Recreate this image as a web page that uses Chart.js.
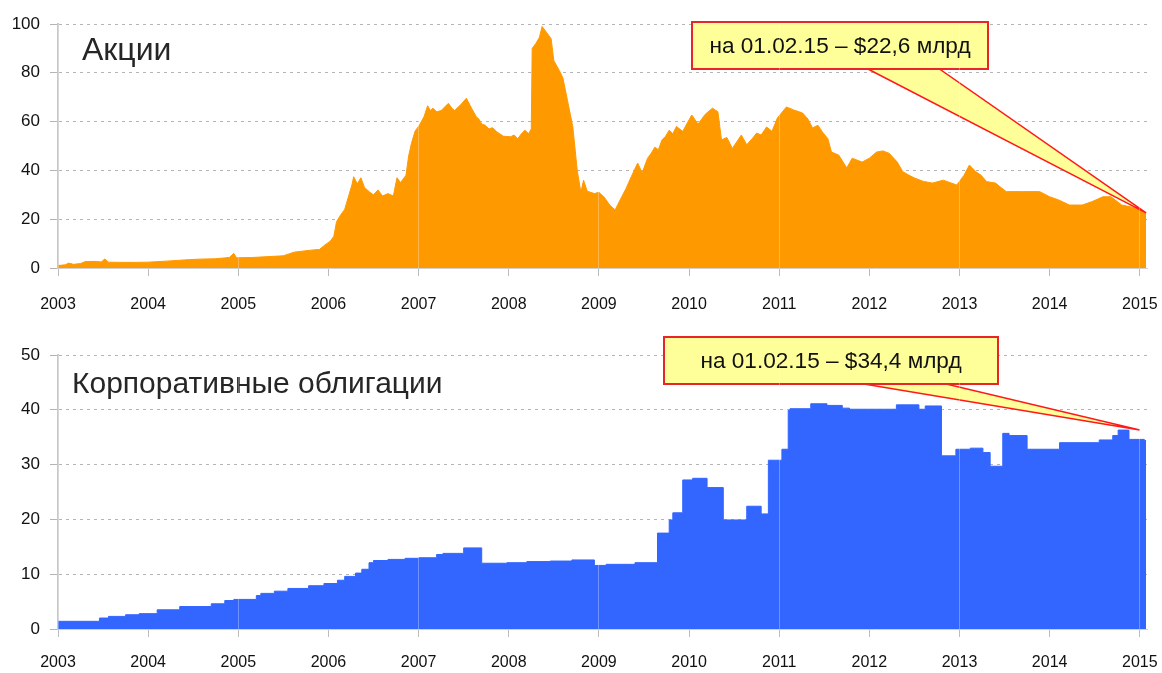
<!DOCTYPE html>
<html>
<head>
<meta charset="utf-8">
<script src="https://cdn.jsdelivr.net/npm/chart.js@4.4.1/dist/chart.umd.min.js"></script>
<style>
body { margin: 0; background: #fff; }
#wrap { position: relative; width: 1162px; height: 673px; }
canvas { position: absolute; left: 0; }
</style>
</head>
<body>
<div id="wrap">
<canvas id="stocks" width="1162" height="330" style="top:0"></canvas>
<canvas id="bonds" width="1162" height="343" style="top:330px"></canvas>
</div>
<script>
// Акции, млрд долл. (год, значение)
var stockYears = [2003.00, 2003.08, 2003.12, 2003.17, 2003.25, 2003.30, 2003.40, 2003.48, 2003.52, 2003.56,
	2003.70, 2003.85, 2004.00, 2004.20, 2004.40, 2004.55, 2004.75, 2004.90, 2004.95, 2004.98,
	2005.15, 2005.35, 2005.50, 2005.62, 2005.80, 2005.90, 2005.96, 2006.02, 2006.06, 2006.09,
	2006.14, 2006.18, 2006.22, 2006.26, 2006.28, 2006.32, 2006.36, 2006.40, 2006.46, 2006.50,
	2006.55, 2006.60, 2006.66, 2006.72, 2006.76, 2006.80, 2006.86, 2006.89, 2006.92, 2006.96,
	2007.01, 2007.06, 2007.10, 2007.13, 2007.16, 2007.20, 2007.25, 2007.29, 2007.33, 2007.37,
	2007.40, 2007.44, 2007.47, 2007.53, 2007.58, 2007.64, 2007.67, 2007.70, 2007.74, 2007.78,
	2007.82, 2007.86, 2007.90, 2007.94, 2008.02, 2008.06, 2008.10, 2008.14, 2008.18, 2008.22,
	2008.25, 2008.26, 2008.30, 2008.34, 2008.37, 2008.42, 2008.47, 2008.50, 2008.56, 2008.60,
	2008.65, 2008.71, 2008.76, 2008.80, 2008.83, 2008.87, 2008.95, 2009.00, 2009.06, 2009.12,
	2009.18, 2009.23, 2009.30, 2009.36, 2009.43, 2009.48, 2009.54, 2009.58, 2009.62, 2009.66,
	2009.70, 2009.74, 2009.78, 2009.82, 2009.86, 2009.93, 2010.03, 2010.10, 2010.18, 2010.26,
	2010.32, 2010.36, 2010.42, 2010.48, 2010.58, 2010.64, 2010.70, 2010.75, 2010.80, 2010.86,
	2010.92, 2010.98, 2011.08, 2011.16, 2011.26, 2011.32, 2011.37, 2011.43, 2011.48, 2011.54,
	2011.58, 2011.66, 2011.75, 2011.81, 2011.92, 2012.00, 2012.08, 2012.15, 2012.22, 2012.31,
	2012.37, 2012.44, 2012.50, 2012.60, 2012.70, 2012.82, 2012.97, 2013.05, 2013.11, 2013.18,
	2013.24, 2013.30, 2013.40, 2013.46, 2013.52, 2013.70, 2013.89, 2014.00, 2014.10, 2014.22,
	2014.36, 2014.47, 2014.59, 2014.68, 2014.80, 2014.96, 2015.07];
var stockValues = [1.0, 1.3, 2.0, 1.5, 1.8, 2.6, 2.7, 2.5, 3.7, 2.4,
	2.3, 2.3, 2.4, 2.8, 3.3, 3.6, 3.8, 4.3, 6.0, 4.2,
	4.3, 4.7, 5.0, 6.5, 7.3, 7.6, 9.4, 11.0, 13.0, 19.0,
	22.0, 24.0, 29.0, 34.0, 37.4, 34.5, 37.0, 33.0, 31.0, 30.0,
	32.0, 29.5, 30.5, 29.5, 37.0, 35.0, 38.0, 46.0, 51.0, 56.0,
	58.6, 62.0, 66.5, 64.5, 65.5, 64.0, 64.5, 66.0, 67.5, 65.5,
	64.5, 66.0, 67.0, 69.6, 66.0, 62.0, 61.0, 59.0, 58.5, 57.0,
	57.5, 56.0, 55.0, 54.0, 53.8, 54.5, 53.0, 55.0, 56.5, 55.0,
	57.0, 90.0, 92.0, 94.5, 99.0, 96.5, 94.0, 85.0, 81.0, 78.0,
	69.0, 58.0, 40.0, 31.0, 36.0, 31.5, 30.5, 31.0, 29.0, 25.8,
	23.8, 27.5, 32.5, 37.5, 43.0, 39.0, 45.0, 47.0, 49.5, 48.5,
	52.5, 54.0, 56.5, 55.0, 58.0, 56.0, 62.7, 59.0, 63.0, 65.5,
	64.0, 52.5, 53.5, 49.0, 54.5, 50.5, 53.0, 55.3, 54.5, 57.8,
	56.0, 61.5, 66.0, 64.8, 63.5, 61.0, 57.4, 58.5, 55.7, 53.0,
	47.5, 46.3, 41.0, 45.0, 43.4, 45.0, 47.5, 48.0, 47.0, 43.4,
	39.5, 38.0, 36.9, 35.5, 34.8, 36.0, 34.0, 38.0, 42.2, 39.5,
	38.0, 35.4, 34.8, 33.0, 31.3, 31.3, 31.3, 29.2, 27.9, 25.8,
	25.8, 27.2, 29.2, 29.2, 25.8, 24.6, 22.6];

// Корпоративные облигации, млрд долл. (ступеньки: значение действует с этой даты)
var bondYears = [2003.00, 2003.46, 2003.56, 2003.75, 2003.90, 2004.10, 2004.35, 2004.70, 2004.85, 2004.95,
	2005.20, 2005.25, 2005.40, 2005.55, 2005.78, 2005.95, 2006.10, 2006.18, 2006.30, 2006.37,
	2006.45, 2006.50, 2006.66, 2006.85, 2007.00, 2007.20, 2007.27, 2007.50, 2007.70, 2007.98,
	2008.20, 2008.46, 2008.70, 2008.95, 2009.08, 2009.40, 2009.65, 2009.78, 2009.82, 2009.93,
	2010.04, 2010.20, 2010.38, 2010.64, 2010.80, 2010.88, 2011.03, 2011.10, 2011.12, 2011.35,
	2011.53, 2011.70, 2011.78, 2012.30, 2012.55, 2012.62, 2012.80, 2012.96, 2013.12, 2013.26,
	2013.34, 2013.48, 2013.55, 2013.75, 2014.11, 2014.55, 2014.70, 2014.76, 2014.88, 2015.05,
	2015.07];
var bondValues = [1.0, 1.4, 2.0, 2.3, 2.6, 2.8, 3.5, 4.1, 4.6, 5.2,
	5.4, 6.1, 6.5, 6.9, 7.4, 7.9, 8.3, 8.9, 9.6, 10.2,
	10.9, 12.1, 12.5, 12.7, 12.9, 13.0, 13.6, 13.8, 14.8, 12.0,
	12.1, 12.3, 12.4, 12.6, 11.6, 11.8, 12.1, 17.5, 19.9, 21.2,
	27.2, 27.5, 25.8, 19.9, 22.4, 21.0, 30.8, 32.8, 39.9, 40.2,
	41.1, 40.8, 40.3, 40.1, 40.9, 40.1, 40.7, 31.6, 32.8, 33.0,
	32.2, 29.7, 35.7, 35.3, 32.8, 34.0, 34.5, 35.3, 36.3, 34.6,
	34.4];

var yearTicks = [2003, 2015];  // первая и последняя подписи по оси X
var stockTicks = [0, 100, 20];  // мин, макс, шаг
var bondTicks = [0, 50, 10];

var FONT = "'Liberation Sans', Arial, sans-serif";
Chart.defaults.font.family = FONT;

// собираем точки {x, y}
function toPoints(xs, ys) {
	var pts = [];
	for (var i = 0; i < xs.length; i++) {
		pts.push({x: xs[i], y: ys[i]});
	}
	return pts;
}

// заголовок графика и жёлтая выноска
var calloutPlugin = {
	id: 'callout',
	afterDatasetsDraw: function(chart, args, opts) {
		var c = chart.ctx;
		var tx = chart.scales.x.getPixelForValue(opts.tipX);
		var ty = chart.scales.y.getPixelForValue(opts.tipY);
		var b = opts.box;
		c.save();
		// заголовок
		c.fillStyle = '#262626';
		c.font = opts.titleSize + 'px ' + FONT;
		c.textAlign = 'left';
		c.textBaseline = 'alphabetic';
		c.fillText(opts.title, opts.titlePos[0], opts.titlePos[1]);
		// хвост выноски
		c.beginPath();
		c.moveTo(opts.base[0], b[1] + b[3] - 1);
		c.lineTo(tx, ty);
		c.lineTo(opts.base[1], b[1] + b[3] - 1);
		c.closePath();
		c.fillStyle = '#ffff99';
		c.fill();
		c.strokeStyle = '#ff1a1a';
		c.lineWidth = 1.5;
		c.stroke();
		// рамка
		c.fillStyle = '#ffff99';
		c.fillRect(b[0], b[1], b[2], b[3]);
		c.strokeStyle = '#e8262a';
		c.lineWidth = 2;
		c.strokeRect(b[0], b[1], b[2], b[3]);
		c.fillStyle = '#111';
		c.font = '22.6px ' + FONT;
		c.textAlign = 'center';
		c.textBaseline = 'middle';
		c.fillText(opts.text, b[0] + b[2] / 2, b[1] + b[3] / 2 + 1);
		c.restore();
	}
};

function makeChart(id, xs, ys, color, yt, stepped, plot, callout) {
	return new Chart(document.getElementById(id), {
		type: 'line',
		data: {
			datasets: [{
				data: toPoints(xs, ys),
				borderColor: color,
				backgroundColor: color,
				borderWidth: 1,
				fill: 'origin',
				pointRadius: 0,
				tension: 0,
				stepped: stepped
			}]
		},
		plugins: [calloutPlugin],
		options: {
			responsive: false,
			animation: false,
			events: [],
			layout: {padding: {left: 0, right: 15, top: plot.top, bottom: 0}},
			plugins: {
				legend: {display: false},
				tooltip: {enabled: false},
				callout: callout
			},
			scales: {
				x: {
					type: 'linear',
					min: yearTicks[0],
					max: 2015.08,
					afterFit: function(s) {
						s.height = plot.xh;
						s.paddingLeft = 0;
						s.paddingRight = 0;
					},
					ticks: {
						stepSize: 1,
						includeBounds: false,
						autoSkip: false,
						maxRotation: 0,
						padding: plot.xpad,
						color: '#111',
						font: {size: 16},
						callback: function(v) { return v <= yearTicks[1] ? String(v) : ''; }
					},
					grid: {
						z: 1,
						tickLength: 8,
						tickColor: '#bdbdbd',
						lineWidth: 1,
						color: function(ctx) {
							var v = ctx.tick ? ctx.tick.value : 0;
							return (v % 2 == 1) ? 'rgba(255,255,255,0.3)' : 'rgba(255,255,255,0)';
						}
					},
					// линия оси рисуется после сетки (z выше), иначе она уезжает наверх
					border: {color: '#d0d0d0', width: 1, z: 2}
				},
				y: {
					min: yt[0],
					max: yt[1],
					afterFit: function(s) { s.width = 58; },
					ticks: {
						stepSize: yt[2],
						padding: 10,
						color: '#111',
						font: {size: 17}
					},
					grid: {
						color: '#b4b4b4',
						tickLength: 8
					},
					border: {color: '#c8c8c8', width: 2, dash: [3, 4]}
				}
			}
		}
	});
}

var last = stockYears.length - 1;
makeChart('stocks', stockYears, stockValues, '#ff9900', stockTicks, false,
	{top: 24, xh: 62, xpad: 19},
	{
		title: 'Акции', titleSize: 32, titlePos: [82, 60],
		text: 'на 01.02.15 – $22,6 млрд',
		box: [692, 22, 296, 47],
		base: [866, 938],
		tipX: stockYears[last], tipY: stockValues[last]
	});

var peak = bondYears.length - 3;  // точка, на которую указывает выноска
makeChart('bonds', bondYears, bondValues, '#3366ff', bondTicks, 'after',
	{top: 25, xh: 44, xpad: 16},
	{
		title: 'Корпоративные облигации', titleSize: 30, titlePos: [72, 63],
		text: 'на 01.02.15 – $34,4 млрд',
		box: [664, 7, 334, 47],
		base: [858, 942],
		tipX: 2015.0, tipY: bondValues[peak]
	});
</script>
</body>
</html>
